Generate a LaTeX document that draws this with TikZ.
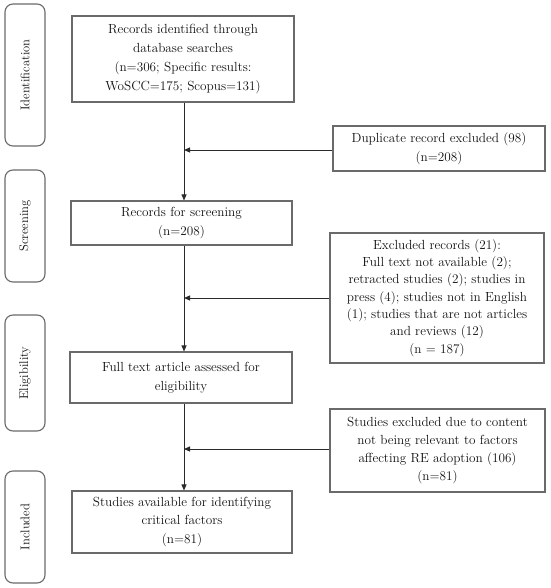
\documentclass[tikz,border=0pt]{standalone}
\usetikzlibrary{arrows.meta}
\definecolor{boxgray}{HTML}{6A6A6A}
\definecolor{linegray}{HTML}{2A2A2A}
\definecolor{txt}{HTML}{111111}
\begin{document}
\begin{tikzpicture}[x=1pt,y=-1pt,
  mainbox/.style={draw=boxgray, line width=1.1pt, rectangle, align=center, inner sep=0pt, text=txt,
     font=\fontsize{13.2}{18.8}\selectfont},
  phasebox/.style={draw=boxgray, line width=1.1pt, rounded corners=8pt, minimum width=40pt, inner sep=0pt},
  phasetext/.style={rotate=90, text=txt, font=\fontsize{12.6}{14}\selectfont},
  flow/.style={draw=linegray, line width=0.9pt, -{Triangle[length=6pt,width=5pt]}}
]
\useasboundingbox (0,0) rectangle (550,588);
% phase boxes
\node[phasebox, minimum height=142pt] (ph1) at (25,75) {};
\node[phasetext] (ph1t) at (ph1) {Identification};
\node[phasebox, minimum height=112pt] (ph2) at (25,226) {};
\node[phasetext] (ph2t) at (ph2) {Screening};
\node[phasebox, minimum height=116pt] (ph3) at (25,373) {};
\node[phasetext] (ph3t) at (ph3) {Eligibility};
\node[phasebox, minimum height=112pt] (ph4) at (25,527) {};
\node[phasetext] (ph4t) at (ph4) {Included};
% main boxes
\node[mainbox, minimum width=222pt, minimum height=86pt] (b1) at (183,59)
  {Records identified through\\database searches\\(n=306; Specific results:\\WoSCC=175; Scopus=131)};
\node[mainbox, minimum width=221pt, minimum height=44pt] (b2) at (181.5,223)
  {Records for screening\\(n=208)};
\node[mainbox, minimum width=222pt, minimum height=51pt] (b3) at (181,377.5)
  {Full text article assessed for\\eligibility};
\node[mainbox, minimum width=220pt, minimum height=62pt] (b4) at (182,522)
  {Studies available for identifying\\critical factors\\(n=81)};
% side boxes
\node[mainbox, minimum width=212pt, minimum height=45pt] (s1) at (439,148.5)
  {Duplicate record excluded (98)\\(n=208)};
\node[mainbox, minimum width=214pt, minimum height=130pt, font=\fontsize{13.2}{17.3}\selectfont] (s2) at (437,298)
  {Excluded records (21):\\Full text not available (2);\\retracted studies (2); studies in\\press (4); studies not in English\\(1); studies that are not articles\\and reviews (12)\\(n = 187)};
\node[mainbox, minimum width=215pt, minimum height=83pt, font=\fontsize{13.2}{17.8}\selectfont] (s3) at (437.5,450.5)
  {Studies excluded due to content\\not being relevant to factors\\affecting RE adoption (106)\\(n=81)};
% junctions on the main line
\coordinate (j1) at (184,150);
\coordinate (j2) at (184,298);
\coordinate (j3) at (184,449);
% vertical flow
\draw[flow] (b1.south -| j1) -- (b2.north -| j1);
\draw[flow] (b2.south -| j2) -- (b3.north -| j2);
\draw[flow] (b3.south -| j3) -- (b4.north -| j3);
% side arrows
\draw[flow] (s1.west |- j1) -- (j1);
\draw[flow] (s2.west |- j2) -- (j2);
\draw[flow] (s3.west |- j3) -- (j3);
\end{tikzpicture}
\end{document}
